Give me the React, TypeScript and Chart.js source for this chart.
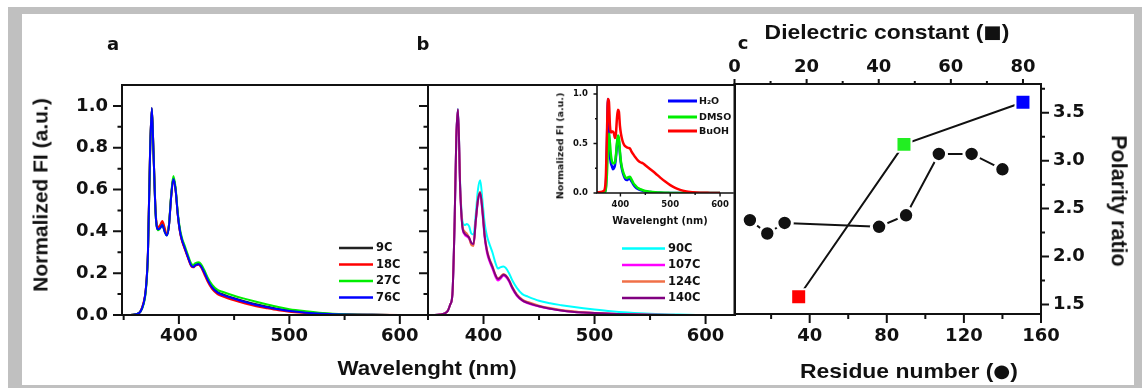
import React, { useEffect, useRef } from "react";
import { Chart, registerables } from "chart.js";

Chart.register(...registerables);

const W = 1142;
const H = 388;
const FONT = "'DejaVu Sans', 'Liberation Sans', sans-serif";
const TITLE_FONT = "'Liberation Sans', Arial, sans-serif";
const INK = "#111111";

// ---------------- data ----------------
const wavelengths = [350, 356, 361, 365, 368, 370, 372, 374, 375.5, 377, 379, 381, 383, 385, 387, 389, 391, 393, 395, 397, 399, 401, 403, 405, 408, 411, 413, 415, 418, 420, 423, 426, 430, 435, 440, 450, 460, 470, 480, 490, 500, 515, 530, 550, 575, 600];

const a9C = [0, 0, 0.004, 0.015, 0.055, 0.12, 0.3, 0.8, 0.99, 0.78, 0.48, 0.41, 0.42, 0.435, 0.405, 0.385, 0.43, 0.57, 0.655, 0.6, 0.48, 0.4, 0.355, 0.325, 0.28, 0.24, 0.232, 0.24, 0.245, 0.235, 0.205, 0.17, 0.135, 0.11, 0.098, 0.08, 0.065, 0.052, 0.04, 0.029, 0.021, 0.013, 0.007, 0.003, 0.001, 0];
const a18C = [0, 0, 0.004, 0.016, 0.06, 0.12, 0.3, 0.8, 0.985, 0.78, 0.49, 0.42, 0.43, 0.45, 0.42, 0.385, 0.43, 0.565, 0.65, 0.6, 0.48, 0.395, 0.35, 0.32, 0.275, 0.235, 0.228, 0.236, 0.24, 0.228, 0.195, 0.16, 0.125, 0.1, 0.088, 0.07, 0.055, 0.042, 0.032, 0.023, 0.016, 0.01, 0.005, 0.002, 0.001, 0];
const a27C = [0, 0, 0.004, 0.015, 0.05, 0.11, 0.29, 0.79, 0.985, 0.78, 0.48, 0.405, 0.415, 0.43, 0.4, 0.38, 0.43, 0.575, 0.665, 0.61, 0.49, 0.41, 0.365, 0.335, 0.29, 0.248, 0.24, 0.248, 0.252, 0.243, 0.215, 0.18, 0.145, 0.12, 0.11, 0.092, 0.077, 0.063, 0.05, 0.038, 0.028, 0.018, 0.01, 0.004, 0.001, 0];
const a76C = [0, 0, 0.004, 0.015, 0.055, 0.12, 0.3, 0.8, 0.99, 0.78, 0.48, 0.41, 0.415, 0.43, 0.4, 0.38, 0.425, 0.565, 0.65, 0.6, 0.48, 0.4, 0.355, 0.325, 0.28, 0.238, 0.23, 0.238, 0.243, 0.233, 0.203, 0.168, 0.132, 0.107, 0.095, 0.078, 0.062, 0.048, 0.037, 0.027, 0.019, 0.011, 0.006, 0.002, 0.001, 0];

const b90C = [0, 0, 0.002, 0.008, 0.022, 0.05, 0.1, 0.45, 0.85, 0.985, 0.62, 0.45, 0.43, 0.435, 0.425, 0.39, 0.385, 0.48, 0.6, 0.645, 0.55, 0.44, 0.38, 0.345, 0.3, 0.245, 0.222, 0.228, 0.232, 0.225, 0.2, 0.165, 0.13, 0.1, 0.088, 0.068, 0.056, 0.047, 0.039, 0.032, 0.026, 0.018, 0.012, 0.006, 0.002, 0];
const b107C = [0, 0, 0.002, 0.008, 0.022, 0.05, 0.1, 0.45, 0.85, 0.98, 0.6, 0.42, 0.385, 0.375, 0.365, 0.34, 0.335, 0.445, 0.545, 0.58, 0.49, 0.37, 0.3, 0.262, 0.222, 0.18, 0.165, 0.172, 0.188, 0.183, 0.16, 0.126, 0.092, 0.068, 0.056, 0.041, 0.03, 0.022, 0.016, 0.012, 0.009, 0.006, 0.003, 0.001, 0, 0];
const b124C = [0, 0, 0.002, 0.008, 0.022, 0.05, 0.1, 0.45, 0.85, 0.98, 0.61, 0.43, 0.4, 0.39, 0.37, 0.335, 0.33, 0.45, 0.555, 0.59, 0.505, 0.385, 0.315, 0.275, 0.235, 0.19, 0.175, 0.182, 0.196, 0.19, 0.168, 0.134, 0.099, 0.074, 0.062, 0.045, 0.033, 0.024, 0.018, 0.013, 0.01, 0.006, 0.003, 0.001, 0, 0];
const b140C = [0, 0, 0.002, 0.008, 0.022, 0.05, 0.1, 0.45, 0.85, 0.985, 0.6, 0.42, 0.39, 0.38, 0.37, 0.345, 0.34, 0.45, 0.55, 0.585, 0.5, 0.38, 0.31, 0.27, 0.23, 0.188, 0.172, 0.178, 0.193, 0.188, 0.165, 0.13, 0.095, 0.07, 0.058, 0.042, 0.03, 0.022, 0.016, 0.012, 0.009, 0.006, 0.003, 0.001, 0, 0];

const insetWavelengths = [350, 360, 366, 369, 371, 373, 375, 377, 379, 381, 383, 385, 387, 389, 391, 393, 395, 397, 399, 401, 404, 407, 410, 413, 416, 419, 422, 426, 430, 435, 440, 445, 450, 460, 470, 480, 490, 500, 510, 520, 530, 545, 560, 580, 600];
const insetH2O = [0, 0, 0, 0.01, 0.08, 0.5, 0.95, 0.6, 0.38, 0.3, 0.27, 0.24, 0.25, 0.28, 0.36, 0.48, 0.56, 0.52, 0.4, 0.3, 0.22, 0.17, 0.14, 0.13, 0.14, 0.145, 0.12, 0.085, 0.06, 0.04, 0.03, 0.022, 0.015, 0.009, 0.005, 0.002, 0.001, 0, 0, 0, 0, 0, 0, 0, 0];
const insetDMSO = [0, 0, 0, 0.01, 0.05, 0.2, 0.45, 0.6, 0.5, 0.38, 0.32, 0.3, 0.3, 0.31, 0.38, 0.5, 0.58, 0.55, 0.42, 0.32, 0.24, 0.19, 0.16, 0.15, 0.16, 0.165, 0.14, 0.1, 0.075, 0.05, 0.038, 0.028, 0.02, 0.012, 0.007, 0.004, 0.002, 0.001, 0, 0, 0, 0, 0, 0, 0];
const insetBuOH = [0.005, 0.01, 0.02, 0.05, 0.2, 0.6, 0.95, 0.92, 0.68, 0.61, 0.62, 0.62, 0.6, 0.555, 0.6, 0.75, 0.84, 0.82, 0.68, 0.6, 0.53, 0.49, 0.47, 0.46, 0.455, 0.45, 0.42, 0.39, 0.36, 0.33, 0.31, 0.3, 0.28, 0.24, 0.2, 0.155, 0.115, 0.08, 0.052, 0.032, 0.018, 0.008, 0.003, 0.001, 0];

const residueNumbers = [9, 18, 27, 76, 90, 107, 124, 140];
const residueRatio = [2.38, 2.24, 2.35, 2.31, 2.43, 3.07, 3.07, 2.91];
const dielectricConstants = [17.8, 47, 80];
const solventRatio = [1.58, 3.17, 3.61];

const labelsA = ["9C", "18C", "27C", "76C"];
const labelsB = ["90C", "107C", "124C", "140C"];
const labelsInset = ["H\u2082O", "DMSO", "BuOH"];

const colorsA = ["#222222", "#ff0000", "#00ee00", "#0000ff"];
const colorsB = ["#00ffff", "#ff00ff", "#f07048", "#800080"];
const colorsInset = ["#0000ff", "#00ee00", "#ff0000"];
const solventColors = ["#ff0000", "#22ee22", "#0000ff"];

const wlTicks = [400, 500, 600];
const wlMinor = [350, 450, 550];
const fiTicks = [0, 0.2, 0.4, 0.6, 0.8, 1.0];
const fiMinor = [0.1, 0.3, 0.5, 0.7, 0.9];
const insetFiTicks = [0, 0.5, 1.0];
const insetFiMinor = [0.25, 0.75];
const residueTicks = [40, 80, 120, 160];
const residueMinor = [20, 60, 100, 140];
const dielectricTicks = [0, 20, 40, 60, 80];
const dielectricMinor = [10, 30, 50, 70];
const ratioTicks = [1.5, 2.0, 2.5, 3.0, 3.5];
const ratioMinor = [1.75, 2.25, 2.75, 3.25, 3.75];

// ---------------- helpers ----------------
type Side = "left" | "right" | "top" | "bottom";
type TickSpec = { axis: string; side: Side; major: number[]; minor: number[]; majorLen: number; minorLen: number; width?: number };
type LegendSpec = { labels: string[]; colors: string[]; x0: number; x1: number; tx: number; ys: number[]; size: number; lw: number };
type DecorSpec = { frame: Side[]; frameWidth: number; ticks: TickSpec[]; legend?: LegendSpec };

function decor(spec: DecorSpec) {
  return {
    id: "decor",
    afterDraw(chart: any) {
      const { ctx, chartArea: a } = chart;
      ctx.save();
      ctx.strokeStyle = INK;
      ctx.lineWidth = spec.frameWidth;
      ctx.lineCap = "square";
      ctx.beginPath();
      for (const s of spec.frame) {
        if (s === "left") { ctx.moveTo(a.left, a.top); ctx.lineTo(a.left, a.bottom); }
        if (s === "right") { ctx.moveTo(a.right, a.top); ctx.lineTo(a.right, a.bottom); }
        if (s === "top") { ctx.moveTo(a.left, a.top); ctx.lineTo(a.right, a.top); }
        if (s === "bottom") { ctx.moveTo(a.left, a.bottom); ctx.lineTo(a.right, a.bottom); }
      }
      ctx.stroke();
      ctx.lineCap = "butt";
      for (const t of spec.ticks) {
        const sc = chart.scales[t.axis];
        const lo = Math.min(sc.min, sc.max) - 1e-9;
        const hi = Math.max(sc.min, sc.max) + 1e-9;
        ctx.lineWidth = t.width ?? 2;
        ctx.beginPath();
        const draw = (v: number, len: number) => {
          if (v < lo || v > hi) return;
          const p = sc.getPixelForValue(v);
          if (t.side === "bottom") { ctx.moveTo(p, a.bottom); ctx.lineTo(p, a.bottom + len); }
          else if (t.side === "top") { ctx.moveTo(p, a.top); ctx.lineTo(p, a.top - len); }
          else if (t.side === "left") { ctx.moveTo(a.left, p); ctx.lineTo(a.left - len, p); }
          else { ctx.moveTo(a.right, p); ctx.lineTo(a.right + len, p); }
        };
        t.major.forEach((v) => draw(v, t.majorLen));
        t.minor.forEach((v) => draw(v, t.minorLen));
        ctx.stroke();
      }
      const lg = spec.legend;
      if (lg) {
        ctx.font = `bold ${lg.size}px ${FONT}`;
        ctx.textBaseline = "middle";
        ctx.textAlign = "left";
        lg.labels.forEach((lab, i) => {
          ctx.strokeStyle = lg.colors[i];
          ctx.lineWidth = lg.lw;
          ctx.beginPath();
          ctx.moveTo(lg.x0, lg.ys[i]);
          ctx.lineTo(lg.x1, lg.ys[i]);
          ctx.stroke();
          ctx.fillStyle = INK;
          ctx.fillText(lab, lg.tx, lg.ys[i] + 0.5);
        });
      }
      ctx.restore();
    },
  };
}

// fitSize: thickness of the axis box (labels are clipped to it)
function axis(position: Side, min: number, max: number, values: number[], digits: number, size: number, pad: number, fitSize: number, show = true) {
  const horizontal = position === "top" || position === "bottom";
  return {
    type: "linear",
    position,
    min,
    max,
    bounds: "data",
    afterFit: (s: any) => {
      if (horizontal) s.height = fitSize;
      else s.width = fitSize;
    },
    afterBuildTicks: (s: any) => {
      s.ticks = values.map((v) => ({ value: v }));
    },
    grid: { display: false, drawTicks: false },
    border: { display: false },
    ticks: {
      display: show,
      autoSkip: false,
      maxRotation: 0,
      minRotation: 0,
      padding: pad,
      color: INK,
      font: { family: FONT, weight: "bold", size },
      callback: (v: any) => Number(v).toFixed(digits),
    },
  };
}

function series(xs: number[], ys: number[], color: string, order: number, width = 2) {
  return {
    data: xs.map((x, i) => ({ x, y: ys[i] })),
    borderColor: color,
    backgroundColor: color,
    borderWidth: width,
    pointRadius: 0,
    cubicInterpolationMode: "monotone",
    fill: false,
    order,
  };
}

// padding given directly in canvas pixels
function base(left: number, top: number, right: number, bottom: number) {
  return {
    responsive: false,
    maintainAspectRatio: false,
    animation: false,
    events: [],
    layout: { padding: { left, top, right, bottom } },
    plugins: { legend: { display: false }, tooltip: { enabled: false }, title: { display: false } },
  };
}

// ---------------- charts ----------------
// Panel a plot area: x 122..428, y 85..315
function configA(): any {
  return {
    type: "line",
    data: {
      datasets: [
        series(wavelengths, a9C, colorsA[0], 3),
        series(wavelengths, a18C, colorsA[1], 2),
        series(wavelengths, a27C, colorsA[2], 1),
        series(wavelengths, a76C, colorsA[3], 0),
      ],
    },
    options: {
      ...base(0, 85, W - 428, 0),
      scales: {
        x: axis("bottom", 348.5, 625.5, wlTicks, 0, 18, 11, H - 315),
        y: axis("left", 0, 1.1, fiTicks, 1, 18, 14, 122),
      },
    },
    plugins: [
      decor({
        frame: ["left", "bottom", "top"],
        frameWidth: 2,
        ticks: [
          { axis: "x", side: "bottom", major: wlTicks, minor: wlMinor, majorLen: 9, minorLen: 5 },
          { axis: "y", side: "left", major: fiTicks, minor: fiMinor, majorLen: 9, minorLen: 4.5 },
        ],
        legend: { labels: labelsA, colors: colorsA, x0: 339, x1: 373, tx: 376, ys: [248, 264.5, 281, 297.5], size: 11.5, lw: 2.5 },
      }),
    ],
  };
}

// Panel b plot area: x 428..735, y 85..315
function configB(): any {
  return {
    type: "line",
    data: {
      datasets: [
        series(wavelengths, b90C, colorsB[0], 3),
        series(wavelengths, b107C, colorsB[1], 2),
        series(wavelengths, b124C, colorsB[2], 1),
        series(wavelengths, b140C, colorsB[3], 0),
      ],
    },
    options: {
      ...base(428, 85, W - 735, 0),
      scales: {
        x: axis("bottom", 350, 626.5, wlTicks, 0, 18, 11, H - 315),
        y: axis("left", 0, 1.1, fiTicks, 1, 18, 14, 0, false),
      },
    },
    plugins: [
      decor({
        frame: ["left", "bottom", "top", "right"],
        frameWidth: 2,
        ticks: [
          { axis: "x", side: "bottom", major: wlTicks, minor: wlMinor, majorLen: 9, minorLen: 5 },
          { axis: "y", side: "left", major: fiTicks, minor: fiMinor, majorLen: 9, minorLen: 4.5 },
        ],
        legend: { labels: labelsB, colors: colorsB, x0: 622, x1: 665, tx: 668, ys: [248.5, 265, 281.5, 298], size: 11.5, lw: 2.5 },
      }),
    ],
  };
}

// Inset plot area: x 597..733, y 86..193
function configInset(): any {
  return {
    type: "line",
    data: {
      datasets: [
        series(insetWavelengths, insetH2O, colorsInset[0], 2, 2.5),
        series(insetWavelengths, insetDMSO, colorsInset[1], 1, 2.5),
        series(insetWavelengths, insetBuOH, colorsInset[2], 0, 2.5),
      ],
    },
    options: {
      ...base(540, 86, W - 733, H - 193 - 40),
      scales: {
        x: axis("bottom", 353, 626, wlTicks, 0, 8.5, 7, 40),
        y: axis("left", 0, 1.08, insetFiTicks, 1, 8.5, 9, 57),
      },
    },
    plugins: [
      decor({
        frame: ["left", "bottom"],
        frameWidth: 1.6,
        ticks: [
          { axis: "x", side: "bottom", major: wlTicks, minor: [450, 550], majorLen: 3.5, minorLen: 2, width: 1.4 },
          { axis: "y", side: "left", major: insetFiTicks, minor: insetFiMinor, majorLen: 3.5, minorLen: 2, width: 1.4 },
        ],
        legend: { labels: labelsInset, colors: colorsInset, x0: 668, x1: 697, tx: 699, ys: [101, 117, 131], size: 9.5, lw: 3 },
      }),
    ],
  };
}

// Panel c plot area: x 734.5..1041, y 84..314
function configC(): any {
  return {
    type: "line",
    data: {
      datasets: [
        {
          data: residueNumbers.map((x, i) => ({ x, y: residueRatio[i] })),
          xAxisID: "x",
          yAxisID: "y",
          borderColor: INK,
          borderWidth: 2,
          tension: 0,
          pointStyle: "circle",
          pointRadius: 7.7,
          pointBackgroundColor: INK,
          pointBorderColor: "#ffffff",
          pointBorderWidth: 3,
          fill: false,
          order: 1,
        },
        {
          data: dielectricConstants.map((x, i) => ({ x, y: solventRatio[i] })),
          xAxisID: "x2",
          yAxisID: "y",
          borderColor: INK,
          borderWidth: 2,
          tension: 0,
          pointStyle: "rect",
          pointRadius: 10.6,
          pointBackgroundColor: solventColors,
          pointBorderColor: "#ffffff",
          pointBorderWidth: 2,
          fill: false,
          order: 0,
        },
      ],
    },
    options: {
      ...base(734.5, 0, 0, 0),
      scales: {
        x: axis("bottom", 1, 160, residueTicks, 0, 18, 12, H - 314),
        x2: axis("top", 0, 85, dielectricTicks, 0, 18, 6, 84),
        y: axis("right", 1.4, 3.8, ratioTicks, 1, 18, 12, W - 1041),
      },
    },
    plugins: [
      decor({
        frame: ["left", "bottom", "top", "right"],
        frameWidth: 2,
        ticks: [
          { axis: "x", side: "bottom", major: residueTicks, minor: residueMinor, majorLen: 9, minorLen: 5 },
          { axis: "x2", side: "top", major: dielectricTicks, minor: dielectricMinor, majorLen: 5, minorLen: 3 },
          { axis: "y", side: "right", major: ratioTicks, minor: ratioMinor, majorLen: 8, minorLen: 4 },
        ],
      }),
    ],
  };
}

type TextItem = { t: string; x: number; y: number; s: number; r?: number; sx?: number; f?: string; sym?: string };
const overlayTexts: TextItem[] = [
  { t: "a", x: 113, y: 44, s: 18 },
  { t: "b", x: 423, y: 44, s: 18 },
  { t: "c", x: 743, y: 43, s: 18 },
  { t: "Normalized FI (a.u.)", x: 40, y: 195, s: 21, r: -90, f: TITLE_FONT },
  { t: "Wavelenght (nm)", x: 427, y: 368, s: 20.5, sx: 1.09, f: TITLE_FONT },
  { t: "Dielectric constant (", sym: "\u25A0", x: 887, y: 31, s: 21, sx: 1.09, f: TITLE_FONT },
  { t: "Residue number (", sym: "\u25CF", x: 909, y: 370, s: 21, sx: 1.09, f: TITLE_FONT },
  { t: "Polarity ratio", x: 1118, y: 201, s: 21.5, r: 90, f: TITLE_FONT },
  { t: "Normalized FI (a.u.)", x: 560, y: 146, s: 9.5, r: -90 },
  { t: "Wavelenght (nm)", x: 660, y: 221, s: 9.8 },
];

export default function App() {
  const refA = useRef<HTMLCanvasElement>(null);
  const refB = useRef<HTMLCanvasElement>(null);
  const refI = useRef<HTMLCanvasElement>(null);
  const refC = useRef<HTMLCanvasElement>(null);

  useEffect(() => {
    const charts: Chart[] = [];
    if (refA.current) charts.push(new Chart(refA.current, configA()));
    if (refB.current) charts.push(new Chart(refB.current, configB()));
    if (refC.current) charts.push(new Chart(refC.current, configC()));
    if (refI.current) charts.push(new Chart(refI.current, configInset()));
    return () => charts.forEach((c) => c.destroy());
  }, []);

  const canvasStyle: React.CSSProperties = { position: "absolute", left: 0, top: 0, width: W, height: H };

  return (
    <div style={{ position: "absolute", left: 0, top: 0, width: W, height: H, background: "#ffffff", overflow: "hidden" }}>
      <div style={{ position: "absolute", left: 8, top: 7, width: 1134, height: 381, background: "#c0c0c0" }} />
      <div style={{ position: "absolute", left: 22, top: 14, width: 1112, height: 371, background: "#ffffff" }} />
      <canvas ref={refA} width={W} height={H} style={canvasStyle} />
      <canvas ref={refB} width={W} height={H} style={canvasStyle} />
      <canvas ref={refC} width={W} height={H} style={canvasStyle} />
      <canvas ref={refI} width={W} height={H} style={canvasStyle} />
      {overlayTexts.map((it, i) => (
        <div
          key={i}
          style={{
            position: "absolute",
            left: it.x,
            top: it.y,
            transform: `translate(-50%, -50%) rotate(${it.r ?? 0}deg) scaleX(${it.sx ?? 1})`,
            font: `bold ${it.s}px ${it.f ?? FONT}`,
            lineHeight: 1,
            whiteSpace: "nowrap",
            color: INK,
          }}
        >
          {it.t}
          {it.sym ? (
            <>
              <span style={{ fontFamily: FONT, fontSize: it.s * 0.85, position: "relative", top: -1 }}>{it.sym}</span>)
            </>
          ) : null}
        </div>
      ))}
    </div>
  );
}
